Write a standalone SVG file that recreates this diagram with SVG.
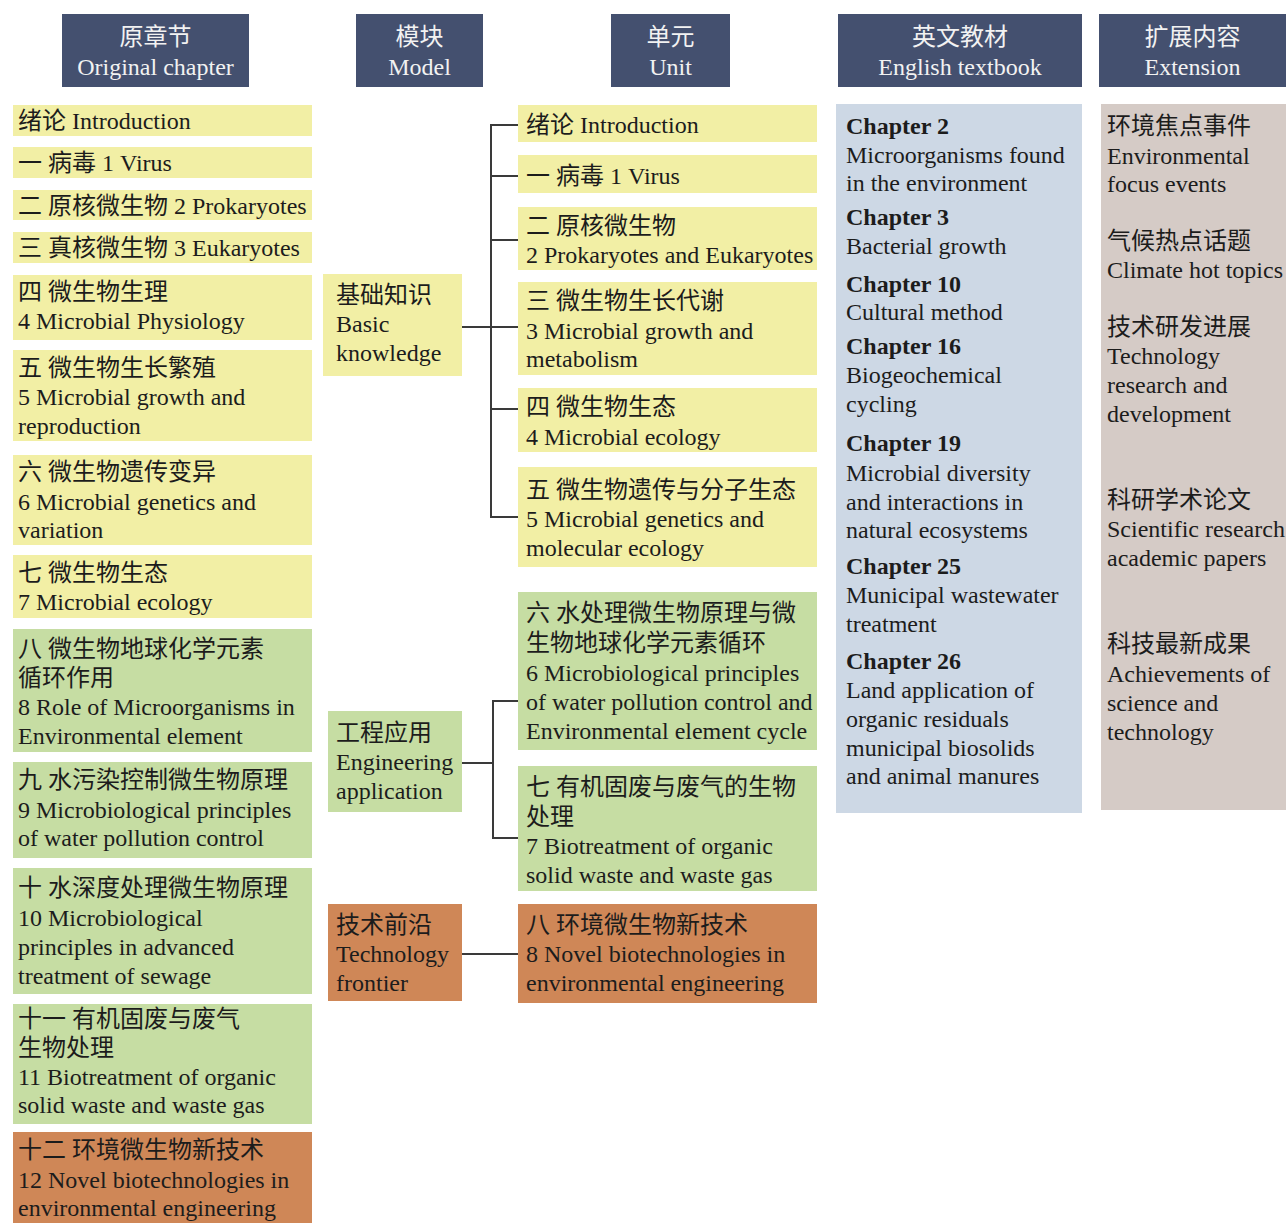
<svg xmlns="http://www.w3.org/2000/svg" width="1286" height="1223" viewBox="0 0 1286 1223">
<style>
text{font-family:"Liberation Serif","Noto Sans CJK SC",serif;font-size:24px;fill:#1c1c1c}
.hd rect{fill:#44506f}
.hd text{fill:#f2f2f2;text-anchor:middle}
.y{fill:#f2efa5}
.g{fill:#c6dda3}
.o{fill:#cf8757}
.b{fill:#cdd8e5}
.p{fill:#d5cbc6}
.bold{font-weight:bold}
.cn path{fill:none;stroke:#3a3a3a;stroke-width:2}
</style>
<rect width="1286" height="1223" fill="#ffffff"/>
<g class="hd" id="h1"><rect x="62" y="14" width="187" height="73"/><text x="155.5" y="45">原章节</text><text x="155.5" y="75">Original chapter</text></g>
<g class="hd" id="h2"><rect x="356" y="14" width="127" height="73"/><text x="419.5" y="45">模块</text><text x="419.5" y="75">Model</text></g>
<g class="hd" id="h3"><rect x="611" y="14" width="119" height="73"/><text x="670.5" y="45">单元</text><text x="670.5" y="75">Unit</text></g>
<g class="hd" id="h4"><rect x="838" y="14" width="244" height="73"/><text x="960" y="45">英文教材</text><text x="960" y="75">English textbook</text></g>
<g class="hd" id="h5"><rect x="1099" y="14" width="187" height="73"/><text x="1192.5" y="45">扩展内容</text><text x="1192.5" y="75">Extension</text></g>

<g id="c0"><rect class="y" x="13" y="105" width="299" height="31"/><text x="18" y="129">绪论 Introduction</text></g>
<g id="c1"><rect class="y" x="13" y="147" width="299" height="31"/><text x="18" y="171">一 病毒 1 Virus</text></g>
<g id="c2"><rect class="y" x="13" y="190" width="299" height="30"/><text x="18" y="214">二 原核微生物 2 Prokaryotes</text></g>
<g id="c3"><rect class="y" x="13" y="232" width="299" height="31"/><text x="18" y="256">三 真核微生物 3 Eukaryotes</text></g>
<g id="c4"><rect class="y" x="13" y="275" width="299" height="65"/><text x="18" y="300">四 微生物生理</text><text x="18" y="329">4 Microbial Physiology</text></g>
<g id="c5"><rect class="y" x="13" y="350" width="299" height="91"/><text x="18" y="376">五 微生物生长繁殖</text><text x="18" y="405">5 Microbial growth and</text><text x="18" y="434">reproduction</text></g>
<g id="c6"><rect class="y" x="13" y="455" width="299" height="90"/><text x="18" y="480">六 微生物遗传变异</text><text x="18" y="510">6 Microbial genetics and</text><text x="18" y="538">variation</text></g>
<g id="c7"><rect class="y" x="13" y="555" width="299" height="63"/><text x="18" y="581">七 微生物生态</text><text x="18" y="610">7 Microbial ecology</text></g>
<g id="c8"><rect class="g" x="13" y="629" width="299" height="123"/><text x="18" y="657">八 微生物地球化学元素</text><text x="18" y="686">循环作用</text><text x="18" y="715">8 Role of Microorganisms in</text><text x="18" y="744">Environmental element</text></g>
<g id="c9"><rect class="g" x="13" y="762" width="299" height="96"/><text x="18" y="788">九 水污染控制微生物原理</text><text x="18" y="818">9 Microbiological principles</text><text x="18" y="846">of water pollution control</text></g>
<g id="c10"><rect class="g" x="13" y="868" width="299" height="126"/><text x="18" y="896">十 水深度处理微生物原理</text><text x="18" y="926">10 Microbiological</text><text x="18" y="955">principles in advanced</text><text x="18" y="984">treatment of sewage</text></g>
<g id="c11"><rect class="g" x="13" y="1004" width="299" height="120"/><text x="18" y="1027">十一 有机固废与废气</text><text x="18" y="1056">生物处理</text><text x="18" y="1085">11 Biotreatment of organic</text><text x="18" y="1113">solid waste and waste gas</text></g>
<g id="c12"><rect class="o" x="13" y="1132" width="299" height="91"/><text x="18" y="1158">十二 环境微生物新技术</text><text x="18" y="1188">12 Novel biotechnologies in</text><text x="18" y="1216">environmental engineering</text></g>

<g id="m1"><rect class="y" x="323" y="274" width="139" height="102"/><text x="336" y="303">基础知识</text><text x="336" y="332">Basic</text><text x="336" y="361">knowledge</text></g>
<g id="m2"><rect class="g" x="328" y="711" width="134" height="101"/><text x="336" y="741">工程应用</text><text x="336" y="770">Engineering</text><text x="336" y="799">application</text></g>
<g id="m3"><rect class="o" x="328" y="904" width="134" height="97"/><text x="336" y="933">技术前沿</text><text x="336" y="962">Technology</text><text x="336" y="991">frontier</text></g>

<g id="u0"><rect class="y" x="518" y="105" width="299" height="37"/><text x="526" y="133">绪论 Introduction</text></g>
<g id="u1"><rect class="y" x="518" y="155" width="299" height="38"/><text x="526" y="184">一 病毒 1 Virus</text></g>
<g id="u2"><rect class="y" x="518" y="207" width="299" height="63"/><text x="526" y="234">二 原核微生物</text><text x="526" y="263">2 Prokaryotes and Eukaryotes</text></g>
<g id="u3"><rect class="y" x="518" y="282" width="299" height="93"/><text x="526" y="309">三 微生物生长代谢</text><text x="526" y="339">3 Microbial growth and</text><text x="526" y="367">metabolism</text></g>
<g id="u4"><rect class="y" x="518" y="388" width="299" height="64"/><text x="526" y="415">四 微生物生态</text><text x="526" y="445">4 Microbial ecology</text></g>
<g id="u5"><rect class="y" x="518" y="467" width="299" height="100"/><text x="526" y="498">五 微生物遗传与分子生态</text><text x="526" y="527">5 Microbial genetics and</text><text x="526" y="556">molecular ecology</text></g>
<g id="u6"><rect class="g" x="518" y="592" width="299" height="158"/><text x="526" y="621">六 水处理微生物原理与微</text><text x="526" y="651">生物地球化学元素循环</text><text x="526" y="681">6 Microbiological principles</text><text x="526" y="710">of water pollution control and</text><text x="526" y="739">Environmental element cycle</text></g>
<g id="u7"><rect class="g" x="518" y="766" width="299" height="125"/><text x="526" y="795">七 有机固废与废气的生物</text><text x="526" y="825">处理</text><text x="526" y="854">7 Biotreatment of organic</text><text x="526" y="883">solid waste and waste gas</text></g>
<g id="u8"><rect class="o" x="518" y="904" width="299" height="99"/><text x="526" y="933">八 环境微生物新技术</text><text x="526" y="962">8 Novel biotechnologies in</text><text x="526" y="991">environmental engineering</text></g>

<g id="eng"><rect class="b" x="836" y="104" width="246" height="709"/>
<text class="bold" x="846" y="134">Chapter 2</text><text x="846" y="163">Microorganisms found</text><text x="846" y="191">in the environment</text>
<text class="bold" x="846" y="225">Chapter 3</text><text x="846" y="254">Bacterial growth</text>
<text class="bold" x="846" y="292">Chapter 10</text><text x="846" y="320">Cultural method</text>
<text class="bold" x="846" y="354">Chapter 16</text><text x="846" y="383">Biogeochemical</text><text x="846" y="412">cycling</text>
<text class="bold" x="846" y="451">Chapter 19</text><text x="846" y="481">Microbial diversity</text><text x="846" y="510">and interactions in</text><text x="846" y="538">natural ecosystems</text>
<text class="bold" x="846" y="574">Chapter 25</text><text x="846" y="603">Municipal wastewater</text><text x="846" y="632">treatment</text>
<text class="bold" x="846" y="669">Chapter 26</text><text x="846" y="698">Land application of</text><text x="846" y="727">organic residuals</text><text x="846" y="756">municipal biosolids</text><text x="846" y="784">and animal manures</text>
</g>
<g id="ext"><rect class="p" x="1101" y="104" width="185" height="706"/>
<text x="1107" y="134">环境焦点事件</text><text x="1107" y="164">Environmental</text><text x="1107" y="192">focus events</text>
<text x="1107" y="249">气候热点话题</text><text x="1107" y="278">Climate hot topics</text>
<text x="1107" y="335">技术研发进展</text><text x="1107" y="364">Technology</text><text x="1107" y="393">research and</text><text x="1107" y="422">development</text>
<text x="1107" y="508">科研学术论文</text><text x="1107" y="537">Scientific research</text><text x="1107" y="566">academic papers</text>
<text x="1107" y="652">科技最新成果</text><text x="1107" y="682">Achievements of</text><text x="1107" y="711">science and</text><text x="1107" y="740">technology</text>
</g>

<g class="cn" id="connectors">
<path d="M462 327H518"/>
<path d="M518 125H491V517H518"/>
<path d="M491 176H518M491 240H518M491 409H518"/>
<path d="M462 763H493"/>
<path d="M518 701H493V838H518"/>
<path d="M462 954H518"/>
</g>
</svg>
